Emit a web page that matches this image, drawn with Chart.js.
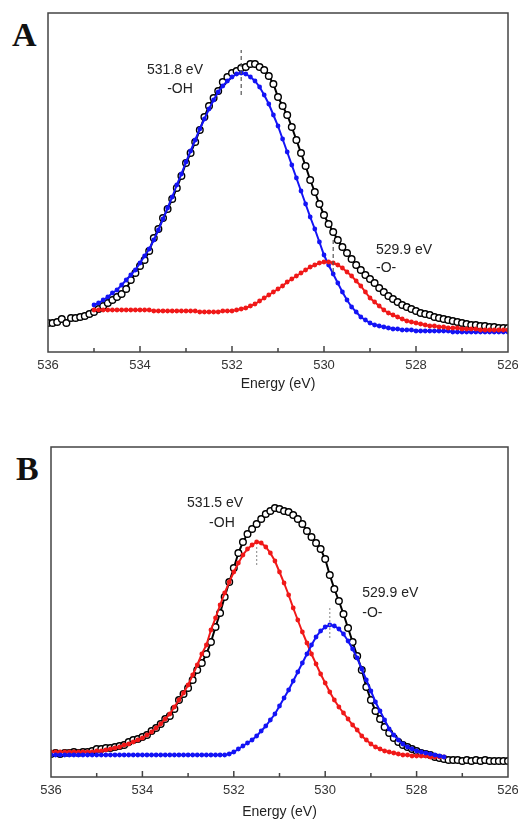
<!DOCTYPE html>
<html>
<head>
<meta charset="utf-8">
<script src="https://cdn.jsdelivr.net/npm/chart.js@4.4.0/dist/chart.umd.min.js"></script>
<style>
  html, body { margin: 0; padding: 0; background: #fff; overflow: hidden; }
  body { width: 518px; height: 821px; position: relative; }
  .panel { position: absolute; left: 0; width: 518px; }
  #panelA { top: 0; height: 400px; }
  #panelB { top: 434px; height: 387px; }
  .tag { position: absolute; font-family: "Liberation Serif", "Times New Roman", serif; font-weight: bold; font-size: 34px; line-height: 1; color: #111; }
</style>
</head>
<body>
<div class="tag" style="left:12px; top:18px;">A</div>
<div class="tag" style="left:16px; top:452px;">B</div>
<div class="panel" id="panelA"><canvas id="chartA" width="518" height="400"></canvas></div>
<div class="panel" id="panelB"><canvas id="chartB" width="518" height="387"></canvas></div>
<script>
// binding energy grid (eV), shared by both panels
const energy = [
  536.0, 535.9, 535.8, 535.7, 535.6, 535.5, 535.4, 535.3, 535.2, 535.1,
  535.0, 534.9, 534.8, 534.7, 534.6, 534.5, 534.4, 534.3, 534.2, 534.1,
  534.0, 533.9, 533.8, 533.7, 533.6, 533.5, 533.4, 533.3, 533.2, 533.1,
  533.0, 532.9, 532.8, 532.7, 532.6, 532.5, 532.4, 532.3, 532.2, 532.1,
  532.0, 531.9, 531.8, 531.7, 531.6, 531.5, 531.4, 531.3, 531.2, 531.1,
  531.0, 530.9, 530.8, 530.7, 530.6, 530.5, 530.4, 530.3, 530.2, 530.1,
  530.0, 529.9, 529.8, 529.7, 529.6, 529.5, 529.4, 529.3, 529.2, 529.1,
  529.0, 528.9, 528.8, 528.7, 528.6, 528.5, 528.4, 528.3, 528.2, 528.1,
  528.0, 527.9, 527.8, 527.7, 527.6, 527.5, 527.4, 527.3, 527.2, 527.1,
  527.0, 526.9, 526.8, 526.7, 526.6, 526.5, 526.4, 526.3, 526.2, 526.1,
  526.0
];
const tickValues = [526, 528, 530, 532, 534, 536];

// panel A: measured spectrum and the two fitted components
const aData = [
  29, 29, 30, 33, 29, 34, 34, 35, 36, 38,
  40, 43, 46, 49, 52, 55, 58, 63, 72, 79,
  86, 92, 101, 114, 123, 134, 143, 153, 164, 176,
  189, 199, 210, 222, 235, 246, 254, 261, 270, 275,
  279, 281, 284, 285, 288, 288, 285, 282, 276, 268,
  255, 246, 237, 225, 212, 199, 186, 172, 160, 148,
  137, 128, 120, 112, 105, 99, 93, 87, 82, 77,
  73, 69, 64, 60, 56, 53, 50, 47, 45, 43,
  41, 39, 38, 37, 35, 34, 33, 32, 31, 30,
  29, 28, 27, 27, 26, 26, 25, 25, 24, 24,
  24
];
const aFitOH = [
  null, null, null, null, null, null, null, null, null, null,
  47, 49, 52, 55, 59, 62, 67, 72, 77, 82,
  89, 96, 103, 112, 122, 133, 144, 155, 167, 178,
  190, 201, 212, 223, 233, 243, 252, 260, 266, 271,
  275, 278, 279, 278, 275, 271, 265, 257, 248, 237,
  226, 213, 200, 187, 174, 161, 148, 135, 123, 110,
  97, 87, 78, 69, 60, 52, 45, 40, 35, 32,
  29, 27, 26, 25, 24, 23, 23, 22, 22, 22,
  21, 21, 21, 21, 21, 21, 21, 21, 20, 20,
  20, 20, 20, 20, 20, 20, 20, 20, 20, 20,
  20
];
const aFitO = [
  null, null, null, null, null, null, null, null, null, null,
  42, 42, 42, 42, 42, 42, 42, 42, 42, 42,
  42, 42, 42, 41, 41, 41, 41, 41, 41, 41,
  41, 41, 41, 40, 40, 40, 40, 40, 41, 41,
  41, 42, 43, 44, 46, 48, 51, 54, 57, 60,
  63, 66, 70, 73, 76, 79, 82, 85, 87, 89,
  90, 90, 89, 87, 84, 80, 76, 71, 66, 60,
  54, 50, 46, 42, 39, 37, 35, 33, 31, 30,
  29, 28, 27, 26, 26, 25, 25, 24, 24, 24,
  23, 23, 23, 23, 22, 22, 22, 22, 22, 22,
  22
];

// panel B
const bData = [
  23, 24, 23, 24, 24, 25, 24, 25, 25, 26,
  28, 28, 29, 29, 30, 31, 32, 35, 37, 38,
  40, 42, 46, 49, 53, 58, 61, 68, 77, 83,
  89, 97, 107, 114, 123, 135, 150, 164, 180, 195,
  209, 224, 235, 243, 248, 253, 258, 263, 266, 269,
  268, 266, 265, 262, 258, 253, 246, 240, 234, 228,
  218, 202, 188, 176, 163, 149, 135, 121, 107, 90,
  77, 66, 58, 50, 44, 39, 35, 32, 30, 28,
  26, 24, 23, 22, 20, 19, 18, 17, 17, 17,
  16, 17, 16, 17, 16, 17, 16, 16, 16, 16,
  16
];
const bFitOH = [
  25, 25, 25, 25, 25, 25, 25, 25, 25, 25,
  26, 26, 27, 28, 29, 30, 32, 33, 35, 37,
  39, 42, 45, 49, 53, 58, 63, 70, 77, 84,
  92, 102, 112, 123, 132, 147, 159, 172, 184, 195,
  205, 214, 222, 228, 232, 235, 234, 230, 224, 216,
  205, 194, 182, 169, 157, 145, 134, 123, 113, 103,
  94, 85, 77, 70, 64, 58, 52, 47, 41, 37,
  33, 30, 28, 26, 25, 24, 23, 22, 22, 21,
  21, 21, 21, 20, 20, 20, 20, null, null, null,
  null, null, null, null, null, null, null, null, null, null,
  null
];
const bFitO = [
  22, 22, 22, 22, 22, 22, 22, 22, 22, 22,
  22, 22, 22, 22, 22, 22, 22, 22, 22, 22,
  22, 22, 22, 22, 22, 22, 22, 22, 22, 22,
  22, 22, 22, 22, 22, 22, 22, 22, 22, 23,
  25, 28, 31, 34, 37, 41, 46, 51, 57, 63,
  71, 79, 87, 96, 105, 114, 123, 132, 140, 146,
  150, 152, 151, 148, 143, 136, 128, 119, 108, 97,
  86, 75, 66, 57, 48, 42, 37, 33, 30, 28,
  26, 25, 24, 23, 22, 21, 20, null, null, null,
  null, null, null, null, null, null, null, null, null, null,
  null
];

const FONT = "'Liberation Sans', Arial, sans-serif";
const BLUE = "rgb(20, 20, 245)";
const RED = "rgb(240, 25, 25)";

function pairs(vals) {
  return energy.map((e, i) => ({ x: e, y: vals[i] }));
}

// frame, inner ticks, peak markers and labels
const panelDecor = {
  id: "panelDecor",
  afterDraw(chart, args, opts) {
    const { ctx, chartArea: a, scales: { x, y } } = chart;
    ctx.save();
    ctx.strokeStyle = "#444";
    ctx.lineWidth = 1.5;
    ctx.setLineDash([]);
    ctx.strokeRect(a.left, a.top, a.right - a.left, a.bottom - a.top);
    for (let e = 527; e <= 535; e++) {
      const px = x.getPixelForValue(e);
      const len = e % 2 === 0 ? 6 : 4;
      ctx.beginPath();
      ctx.moveTo(px, a.bottom);
      ctx.lineTo(px, a.bottom - len);
      ctx.stroke();
    }
    opts.marks.forEach((m) => {
      const px = x.getPixelForValue(m.e);
      ctx.strokeStyle = m.color;
      ctx.lineWidth = 1.2;
      ctx.setLineDash(m.dash);
      ctx.beginPath();
      ctx.moveTo(px, y.getPixelForValue(m.from));
      ctx.lineTo(px, y.getPixelForValue(m.to));
      ctx.stroke();
    });
    ctx.setLineDash([]);
    ctx.fillStyle = "#222";
    ctx.font = "14px " + FONT;
    ctx.textBaseline = "middle";
    opts.texts.forEach((t) => {
      ctx.textAlign = t.align;
      ctx.fillText(t.text, x.getPixelForValue(t.e), y.getPixelForValue(t.h));
    });
    ctx.restore();
  },
};

function makeConfig(fitOH, fitO, ohColor, oColor, measured, yMax, padLeft, axisHeight, titlePad, decor) {
  const data = {
    datasets: [
      {
        label: "-O-",
        data: pairs(fitO),
        borderColor: oColor,
        backgroundColor: oColor,
        borderWidth: 2,
        pointRadius: 1.4,
        tension: 0,
      },
      {
        label: "-OH",
        data: pairs(fitOH),
        borderColor: ohColor,
        backgroundColor: ohColor,
        borderWidth: 2,
        pointRadius: 1.4,
        tension: 0,
      },
      {
        label: "Measured",
        data: pairs(measured),
        borderColor: "#000",
        borderWidth: 2,
        pointRadius: 3.3,
        pointBackgroundColor: "#fff",
        pointBorderColor: "#000",
        pointBorderWidth: 1.4,
        tension: 0,
      },
    ],
  };

  return {
    type: "line",
    data: data,
    options: {
      responsive: false,
      animation: false,
      layout: { padding: { left: padLeft, right: 10, top: 13, bottom: 0 } },
      plugins: {
        legend: { display: false },
        tooltip: { enabled: false },
        panelDecor: decor,
      },
      scales: {
        x: {
          type: "linear",
          reverse: true,
          min: 526,
          max: 536,
          afterBuildTicks: (s) => {
            s.ticks = tickValues.map((v) => ({ value: v }));
          },
          afterFit: (s) => {
            s.height = axisHeight;
          },
          grid: { display: false, drawTicks: false },
          border: { display: false },
          ticks: {
            padding: 6,
            maxRotation: 0,
            color: "#333",
            font: { family: FONT, size: 13 },
          },
          title: {
            display: true,
            text: "Energy (eV)",
            color: "#222",
            font: { family: FONT, size: 14 },
            padding: { top: 0, bottom: titlePad },
          },
        },
        y: { display: false, min: 0, max: yMax },
      },
    },
    plugins: [panelDecor],
  };
}

function panelA() {
  const decor = {
    marks: [
      { e: 531.8, from: 257, to: 302, dash: [4, 3], color: "#555" },
      { e: 529.8, from: 80, to: 114, dash: [4, 3], color: "#555" },
    ],
    texts: [
      { e: 533.24, h: 282, text: "531.8 eV", align: "center" },
      { e: 533.13, h: 263, text: "-OH", align: "center" },
      { e: 528.87, h: 102, text: "529.9 eV", align: "left" },
      { e: 528.87, h: 84, text: "-O-", align: "left" },
    ],
  };
  const config = makeConfig(aFitOH, aFitO, BLUE, RED, aData, 339, 48, 48, 7, decor);
  const ctx = document.getElementById("chartA").getContext("2d");
  new Chart(ctx, config);
}
panelA();

function panelB() {
  const decor = {
    marks: [
      { e: 531.5, from: 212, to: 232, dash: [2, 2], color: "#999" },
      { e: 529.9, from: 139, to: 170, dash: [2, 2], color: "#999" },
    ],
    texts: [
      { e: 532.41, h: 274, text: "531.5 eV", align: "center" },
      { e: 532.26, h: 254, text: "-OH", align: "center" },
      { e: 529.19, h: 184, text: "529.9 eV", align: "left" },
      { e: 529.19, h: 164, text: "-O-", align: "left" },
    ],
  };
  const config = makeConfig(bFitOH, bFitO, RED, BLUE, bData, 330, 51, 44, 0, decor);
  const ctx = document.getElementById("chartB").getContext("2d");
  new Chart(ctx, config);
}
panelB();
</script>
</body>
</html>
